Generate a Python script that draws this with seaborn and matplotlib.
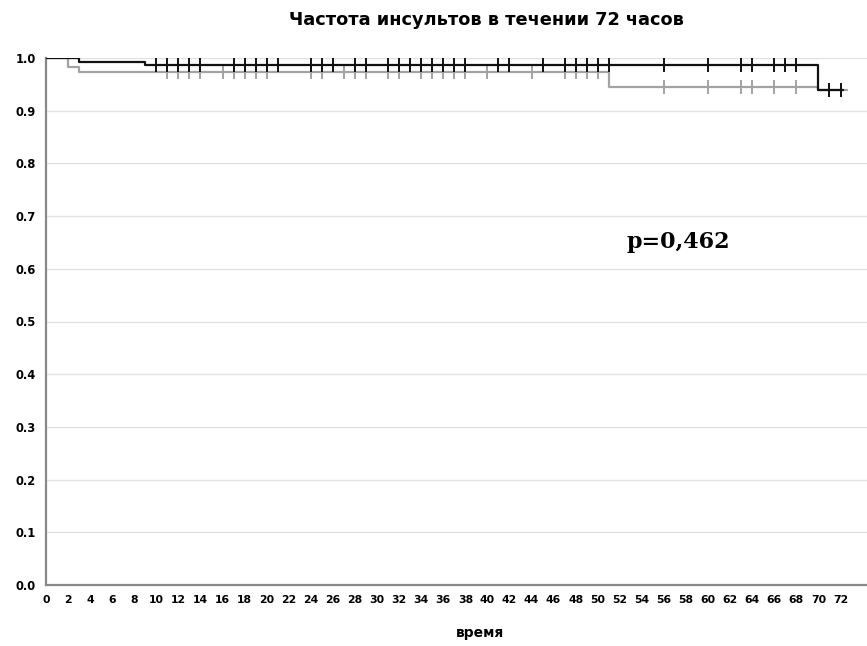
import matplotlib
matplotlib.use("Agg")
import matplotlib.pyplot as plt
import seaborn as sns
import pandas as pd
import numpy as np

# ---- data ----
black_times = [0, 3, 9, 70, 72.2]
black_surv = [1.0, 0.992, 0.986, 0.939, 0.939]
gray_times = [0, 2, 3, 51, 70, 72.6]
gray_surv = [1.0, 0.983, 0.973, 0.945, 0.939, 0.939]

black_censor = [10, 11, 12, 13, 14, 17, 18, 19, 20, 21, 24, 25, 26, 28, 29, 31, 32, 33,
                34, 35, 36, 37, 38, 41, 42, 45, 47, 48, 49, 50, 51, 56, 60, 63, 64, 66,
                67, 68, 71, 72]
gray_censor = [11, 12, 13, 14, 16, 17, 18, 19, 20, 24, 25, 27, 28, 29, 31, 32, 34, 35,
               36, 37, 38, 40, 44, 47, 48, 49, 50, 56, 60, 63, 64, 66, 68, 71, 72]

x_ticks = list(range(0, 73, 2))
y_ticks = [0.0, 0.1, 0.2, 0.3, 0.4, 0.5, 0.6, 0.7, 0.8, 0.9, 1.0]

title = "Частота инсультов в течении 72 часов"
xlabel = "время"
p_text = "p=0,462"

BLACK = "#111111"
GRAY = "#a3a3a3"

def surv_at(times, surv, t):
    idx = np.searchsorted(times, t, side="right") - 1
    return surv[idx]

curves = pd.concat([
    pd.DataFrame({"t": gray_times, "s": gray_surv, "g": "gray"}),
    pd.DataFrame({"t": black_times, "s": black_surv, "g": "black"}),
])
cens = pd.concat([
    pd.DataFrame({"t": gray_censor, "s": [surv_at(gray_times, gray_surv, t) for t in gray_censor], "g": "gray"}),
    pd.DataFrame({"t": black_censor, "s": [surv_at(black_times, black_surv, t) for t in black_censor], "g": "black"}),
])

sns.set_style("white")
plt.rcParams["font.family"] = ["DejaVu Sans"]
plt.rcParams["text.color"] = "black"
plt.rcParams["xtick.color"] = "black"
plt.rcParams["ytick.color"] = "black"

fig = plt.figure(figsize=(8.67, 6.46), dpi=100)
ax = fig.add_axes([46 / 867, 61 / 646, (867 - 46) / 867, (585 - 58) / 646])

for yv in y_ticks[1:]:
    ax.axhline(yv, color="#e2e2e2", lw=1.0, zorder=0)

palette = {"gray": GRAY, "black": BLACK}
sns.lineplot(data=curves, x="t", y="s", hue="g", palette=palette, drawstyle="steps-post",
             estimator=None, sort=False, lw=1.6, legend=False, ax=ax, zorder=3)
for g, col in palette.items():
    sub = cens[cens["g"] == g]
    ax.plot(sub["t"], sub["s"], linestyle="none", marker="|", markersize=10.5,
            markeredgewidth=1.4, color=col, zorder=4 if g == "black" else 2)

ax.set_xlim(0, 74.4)
ax.set_ylim(0, 1.0)
ax.set_xticks(x_ticks)
ax.set_xticks(range(0, 73), minor=True)
ax.set_xticklabels([str(v) for v in x_ticks], fontsize=7.8, fontweight="bold", color="black")
ax.set_yticks(y_ticks)
ax.set_yticklabels([f"{v:.1f}" for v in y_ticks], fontsize=8.3, fontweight="bold", color="black")
ax.tick_params(axis="x", which="both", direction="out", length=5, width=1, color="#333333", pad=2)
ax.tick_params(axis="y", direction="out", length=5, width=1, color="#333333", pad=2.5)
ax.set_xlabel("")
ax.set_ylabel("")

for s in ["top", "right"]:
    ax.spines[s].set_visible(False)
for s in ["left", "bottom"]:
    ax.spines[s].set_color("#888888")
    ax.spines[s].set_linewidth(1.6)

ax.text(52.6, 0.651, p_text, fontsize=16, fontweight="bold", family="DejaVu Serif",
        ha="left", va="center", color="#000000")

fig.text(486 / 867, 1 - 20 / 646, title, fontsize=12.8, fontweight="bold", ha="center",
         va="center", color="black")
fig.text(480 / 867, 1 - 633 / 646, xlabel, fontsize=10, fontweight="bold", ha="center",
         va="center", color="black")

fig.savefig("out.png", dpi=100)
